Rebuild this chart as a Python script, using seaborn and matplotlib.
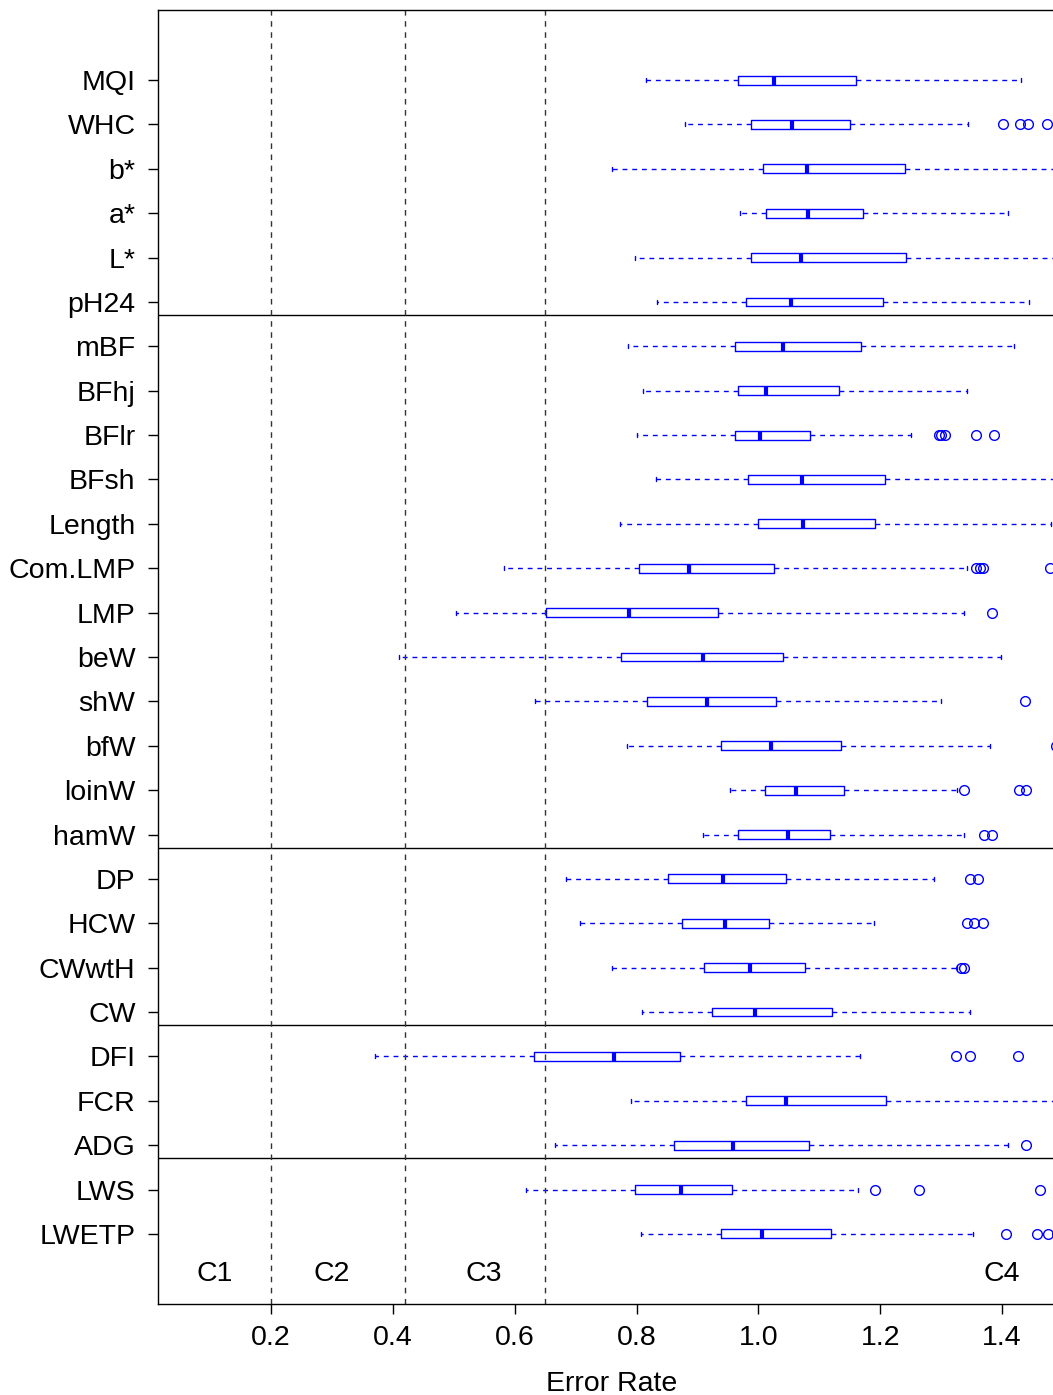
import matplotlib
matplotlib.use("Agg")
import matplotlib.pyplot as plt
import seaborn as sns

traits = ["MQI", "WHC", "b*", "a*", "L*", "pH24", "mBF", "BFhj", "BFlr", "BFsh",
          "Length", "Com.LMP", "LMP", "beW", "shW", "bfW", "loinW", "hamW",
          "DP", "HCW", "CWwtH", "CW", "DFI", "FCR", "ADG", "LWS", "LWETP"]
whisker_low = [0.816, 0.879, 0.760, 0.970, 0.798, 0.834, 0.786, 0.811, 0.800, 0.832,
               0.773, 0.582, 0.504, 0.410, 0.634, 0.784, 0.954, 0.909,
               0.684, 0.707, 0.760, 0.809, 0.371, 0.791, 0.666, 0.619, 0.807]
q1 = [0.966, 0.988, 1.007, 1.013, 0.988, 0.979, 0.961, 0.966, 0.961, 0.983,
      0.999, 0.804, 0.652, 0.775, 0.817, 0.938, 1.011, 0.966,
      0.852, 0.875, 0.910, 0.924, 0.632, 0.979, 0.861, 0.798, 0.938]
median = [1.025, 1.056, 1.080, 1.081, 1.070, 1.054, 1.040, 1.013, 1.002, 1.072,
          1.074, 0.886, 0.788, 0.909, 0.916, 1.020, 1.061, 1.048,
          0.942, 0.945, 0.987, 0.994, 0.763, 1.045, 0.958, 0.873, 1.006]
q3 = [1.161, 1.151, 1.240, 1.172, 1.242, 1.204, 1.168, 1.133, 1.084, 1.208,
      1.192, 1.026, 0.934, 1.040, 1.029, 1.136, 1.140, 1.118,
      1.045, 1.018, 1.077, 1.121, 0.871, 1.210, 1.083, 0.957, 1.119]
whisker_high = [1.431, 1.344, 1.550, 1.410, 1.550, 1.444, 1.420, 1.342, 1.251, 1.520,
                1.481, 1.342, 1.338, 1.399, 1.299, 1.380, 1.326, 1.338,
                1.289, 1.190, 1.326, 1.348, 1.167, 1.520, 1.410, 1.163, 1.352]
outliers = [[], [1.401, 1.430, 1.442, 1.474], [], [], [], [], [], [],
            [1.296, 1.300, 1.307, 1.357, 1.387], [], [],
            [1.357, 1.364, 1.369, 1.478], [1.383], [], [1.438], [1.488],
            [1.338, 1.428, 1.439], [1.371, 1.384],
            [1.347, 1.361], [1.342, 1.354, 1.369], [1.332, 1.337], [],
            [1.324, 1.348, 1.426], [], [1.439], [1.192, 1.263, 1.463],
            [1.407, 1.458, 1.476, 1.490]]
group_lines = [2.7, 5.7, 9.7, 21.7]
class_cuts = [0.2, 0.42, 0.65]
class_labels = ["C1", "C2", "C3", "C4"]
class_label_x = [0.108, 0.30, 0.55, 1.40]

sns.set_theme(style="ticks")
plt.rcParams["font.family"] = ["Liberation Sans", "DejaVu Sans"]

fig = plt.figure(figsize=(10.53, 13.95), dpi=100)
ax = fig.add_axes([158 / 1053, 1 - 1304 / 1395, (1066 - 158) / 1053, 1294 / 1395])

n = len(traits)
positions = [n - i for i in range(n)]
stats = []
for i, name in enumerate(traits):
    stats.append(dict(label=name, whislo=whisker_low[i], q1=q1[i], med=median[i],
                      q3=q3[i], whishi=whisker_high[i], fliers=outliers[i]))

blue = "#0000FF"
kw = dict(positions=positions, widths=0.2, capwidths=0.09,
          boxprops=dict(color=blue, linewidth=1.0),
          medianprops=dict(color=blue, linewidth=3.0, solid_capstyle="butt"),
          whiskerprops=dict(color=blue, linewidth=1.0, linestyle=(0, (3.5, 3.5))),
          capprops=dict(color=blue, linewidth=1.0),
          flierprops=dict(marker="o", markerfacecolor="none", markeredgecolor=blue,
                          markersize=7, markeredgewidth=1.0, linestyle="none"))
try:
    ax.bxp(stats, orientation="horizontal", **kw)
except TypeError:
    ax.bxp(stats, vert=False, **kw)

for yv in group_lines:
    ax.axhline(yv, color="black", linewidth=1.0)
for xv in class_cuts:
    ax.axvline(xv, color="#333333", linewidth=1.0, linestyle=(0, (4, 4)))
for lab, xv in zip(class_labels, class_label_x):
    ax.text(xv, 0.10, lab, ha="center", va="center", fontsize=20.5, color="black")

ax.set_xlim(0.0145, 1.505)
ax.set_ylim(-0.58, 28.58)
ax.set_yticks(positions)
ax.set_yticklabels(traits)
ax.set_xticks([0.2, 0.4, 0.6, 0.8, 1.0, 1.2, 1.4])
ax.set_xticklabels(["0.2", "0.4", "0.6", "0.8", "1.0", "1.2", "1.4"])
ax.tick_params(axis="both", labelsize=20.5, length=7.2, width=1.0, color="black",
               labelcolor="black", direction="out")
ax.tick_params(axis="y", pad=9)
ax.tick_params(axis="x", pad=8)
ax.set_xlabel("Error Rate", fontsize=20.5, color="black", labelpad=14)
ax.set_ylabel("")
for side in ["left", "top", "bottom"]:
    ax.spines[side].set_color("black")
    ax.spines[side].set_linewidth(1.0)
ax.spines["right"].set_visible(False)
ax.grid(False)

fig.savefig("out.png", dpi=100)
